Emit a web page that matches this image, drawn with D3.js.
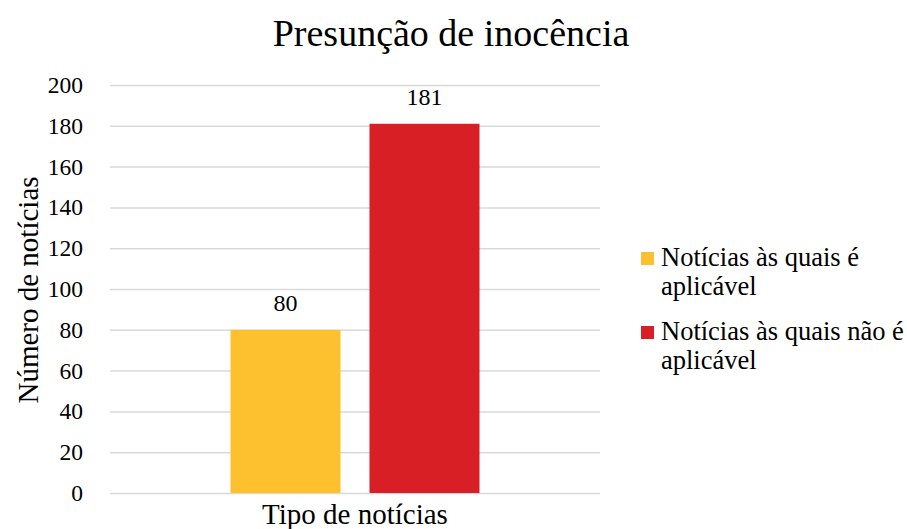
<!DOCTYPE html>
<html><head><meta charset="utf-8">
<script src="https://cdn.jsdelivr.net/npm/d3@7"></script>
</head><body style="margin:0"><svg id="c" width="907" height="529"></svg>
<script>
const title = "Presunção de inocência";
const category = ["Tipo de notícias"];
const seriesNames = ["Notícias às quais é aplicável", "Notícias às quais não é aplicável"];
const seriesValues = [80, 181];
const seriesColors = ["#FDC12F", "#D81F26"];
const yTicks = [0, 20, 40, 60, 80, 100, 120, 140, 160, 180, 200];
const legendLines = [["Notícias às quais é", "aplicável"], ["Notícias às quais não é", "aplicável"]];

const svg = d3.select("#c");
const m = {l:110, r:600, t:85, b:493};
const x0 = d3.scaleBand().domain(category).range([m.l, m.r]).paddingInner(0).paddingOuter(0.484);
const x1 = d3.scaleBand().domain(seriesNames).range([0, x0.bandwidth()]).paddingInner(0.2086);
const y = d3.scaleLinear().domain([0, 200]).range([m.b, m.t]);

function txt(sel, size){
  sel.style("font-family", "Liberation Serif").style("font-size", size + "px");
  return sel;
}

txt(svg.append("text"), 38).attr("x", 451).attr("y", 46).attr("text-anchor","middle").text(title);

const yAxis = svg.append("g").attr("transform",`translate(${m.l},0)`)
  .call(d3.axisLeft(y).tickValues(yTicks).tickSize(-(m.r-m.l)).tickPadding(27));
yAxis.attr("font-family", null).attr("font-size", null);
yAxis.select(".domain").remove();
yAxis.selectAll(".tick line").attr("stroke","#d9d9d9").attr("stroke-width",1.5);
txt(yAxis.selectAll(".tick text"), 23.5).attr("fill","#000");

const g = svg.append("g");
category.forEach(c => {
  seriesNames.forEach((s,i) => {
    const bx = x0(c) + x1(s);
    g.append("rect").attr("x", bx).attr("y", y(seriesValues[i])).attr("width", x1.bandwidth())
      .attr("height", y(0)-y(seriesValues[i])).attr("fill", seriesColors[i]);
    txt(g.append("text"), 24).attr("x", bx + x1.bandwidth()/2).attr("y", y(seriesValues[i]) - 18.5)
      .attr("text-anchor","middle").text(seriesValues[i]);
  });
  txt(svg.append("text"), 29).attr("x", x0(c)+x0.bandwidth()/2).attr("y", 524).attr("text-anchor","middle").text(c);
});

txt(svg.append("text"), 29).attr("transform","translate(38,290) rotate(-90)").attr("text-anchor","middle")
  .text("Número de notícias");

const leg = svg.append("g");
legendLines.forEach((lines,i) => {
  const top = 252 + i*74;
  leg.append("rect").attr("x",641).attr("y",top).attr("width",13).attr("height",13).attr("fill",seriesColors[i]);
  lines.forEach((t,j) => {
    txt(leg.append("text"), 26.5).attr("x",661).attr("y",top+14+j*29).text(t);
  });
});
</script></body></html>
